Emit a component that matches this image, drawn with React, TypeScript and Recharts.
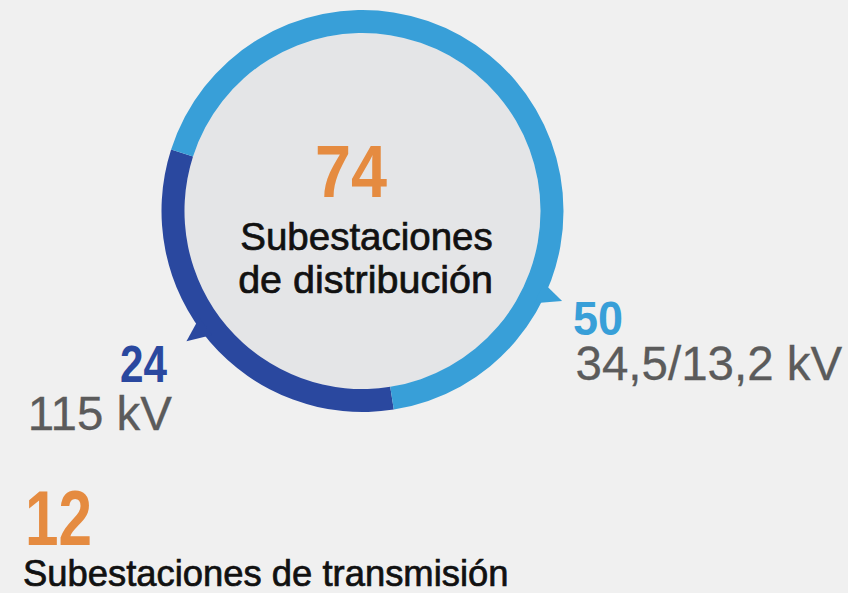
import React from 'react';
import { PieChart, Pie, Cell } from 'recharts';

// valores
const tensiones = ['115 kV', '34,5/13,2 kV'];
const subestacionesPorTension = [24, 50];
const totalDistribucion = [{ name: 'Subestaciones de distribución', value: 74 }];
const totalTransmision = 12;

const colores = ['#2a489f', '#389fd8'];
const naranja = '#e58b40';
const gris = '#5b5b5b';
const negro = '#111';
const font = '"Liberation Sans", Arial, Helvetica, sans-serif';

const CX = 362.5;
const CY = 211;
const INNER = 178;
const OUTER = 201;

const ringData = tensiones.map((name, i) => ({ name, value: subestacionesPorTension[i] }));

const RAD = Math.PI / 180;
const polar = (cx: number, cy: number, r: number, angle: number) => ({
  x: cx + r * Math.cos(-angle * RAD),
  y: cy + r * Math.sin(-angle * RAD),
});

// pointer tail of each segment: [base angle a, base angle b, tip angle]
const tails = [
  [213.2, 219.5, 216.5],
  [338.3, 331.8, 335.7],
];

const renderSegmentLabel = (props: any) => {
  const { cx, cy, index, value, payload } = props;
  const [a, b, t] = tails[index];
  const p1 = polar(cx, cy, OUTER - 6, a);
  const p2 = polar(cx, cy, OUTER - 6, b);
  const tip = polar(cx, cy, OUTER + 18, t);
  const left = index === 0;
  return (
    <g>
      <polygon
        points={`${p1.x},${p1.y} ${tip.x},${tip.y} ${p2.x},${p2.y}`}
        fill={colores[index]}
      />
      <text
        x={left ? cx - 195.5 : cx + 210.5}
        y={left ? cy + 171 : cy + 124}
        textAnchor={left ? 'end' : 'start'}
        fill={colores[index]}
        fontFamily={font}
        fontWeight="bold"
        fontSize={left ? 52 : 49}
        textLength={left ? 47 : 50}
        lengthAdjust="spacingAndGlyphs"
      >
        {value}
      </text>
      <text
        x={left ? cx - 190.5 : cx + 213}
        y={left ? cy + 219 : cy + 169}
        textAnchor={left ? 'end' : 'start'}
        fill={gris}
        stroke={gris}
        strokeWidth={0.3}
        fontFamily={font}
        fontSize={47.5}
      >
        {payload.name}
      </text>
    </g>
  );
};

const renderCenter = (props: any) => {
  const { cx, cy, value } = props;
  return (
    <g>
      <text
        x={cx - 11.5}
        y={cy - 14}
        textAnchor="middle"
        fill={naranja}
        fontFamily={font}
        fontWeight="bold"
        fontSize={75}
        textLength={72}
        lengthAdjust="spacingAndGlyphs"
      >
        {value}
      </text>
      <text
        x={cx + 4}
        y={cy + 39}
        textAnchor="middle"
        fill={negro}
        stroke={negro}
        strokeWidth={0.7}
        fontFamily={font}
        fontSize={38.5}
      >
        Subestaciones
      </text>
      <text
        x={cx + 3}
        y={cy + 82}
        textAnchor="middle"
        fill={negro}
        stroke={negro}
        strokeWidth={0.7}
        fontFamily={font}
        fontSize={39.5}
      >
        de distribución
      </text>
    </g>
  );
};

export default function App() {
  return (
    <div style={{ position: 'absolute', left: 0, top: 0, width: 848, height: 593, background: '#f0f0f0' }}>
      <PieChart width={848} height={593} margin={{ top: 0, right: 0, bottom: 0, left: 0 }}>
        <Pie
          data={totalDistribucion}
          dataKey="value"
          cx={CX}
          cy={CY}
          innerRadius={0}
          outerRadius={INNER}
          fill="#e4e5e7"
          stroke="none"
          label={renderCenter}
          labelLine={false}
          isAnimationActive={false}
        />
        <Pie
          data={ringData}
          dataKey="value"
          cx={CX}
          cy={CY}
          innerRadius={INNER}
          outerRadius={OUTER}
          startAngle={162.2}
          endAngle={522.2}
          stroke="none"
          label={renderSegmentLabel}
          labelLine={false}
          isAnimationActive={false}
        >
          {ringData.map((d, i) => (
            <Cell key={d.name} fill={colores[i]} />
          ))}
        </Pie>
        <text
          x={25}
          y={545}
          fill={naranja}
          fontFamily={font}
          fontWeight="bold"
          fontSize={78}
          textLength={67}
          lengthAdjust="spacingAndGlyphs"
        >
          {totalTransmision}
        </text>
        <text
          x={23}
          y={585.5}
          fill={negro}
          stroke={negro}
          strokeWidth={0.7}
          fontFamily={font}
          fontSize={36.4}
        >
          Subestaciones de transmisión
        </text>
      </PieChart>
    </div>
  );
}
